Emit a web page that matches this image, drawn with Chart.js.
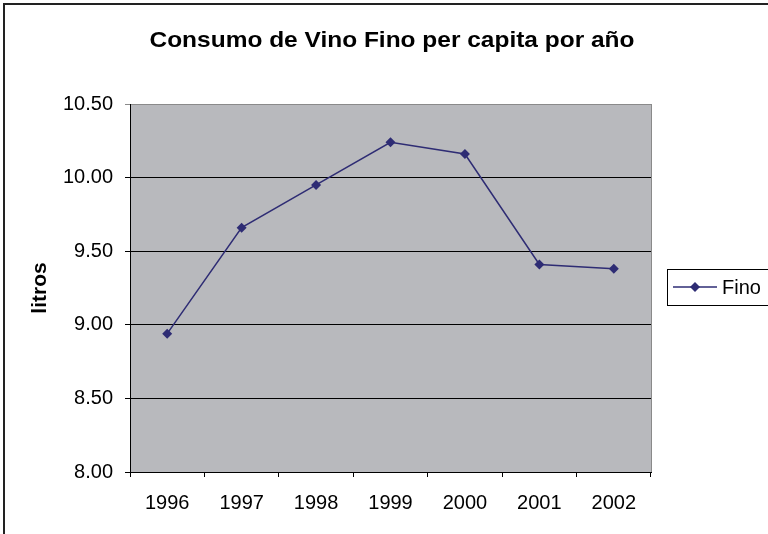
<!DOCTYPE html>
<html>
<head>
<meta charset="utf-8">
<title>Consumo de Vino Fino</title>
<script src="https://cdn.jsdelivr.net/npm/chart.js@4"></script>
<style>
  html, body { margin: 0; padding: 0; background: #fff; }
  #wrap { width: 768px; height: 534px; }
</style>
</head>
<body>
<div id="wrap"><canvas id="chart" width="768" height="534"></canvas></div>
<script>
// Consumo per capita, litros por año
const years = ['1996', '1997', '1998', '1999', '2000', '2001', '2002'];
const fino = [8.94, 9.66, 9.95, 10.24, 10.16, 9.41, 9.38];
const seriesName = 'Fino';
const chartTitle = 'Consumo de Vino Fino per capita por año';
const yTitle = 'litros';

const FONT = '"Liberation Sans", Arial, sans-serif';
const NAVY = '#2E2C74';

// Background, frame, title and legend drawn around the chart area
const excelFrame = {
  id: 'excelFrame',
  beforeDraw(chart) {
    const { ctx, chartArea: a } = chart;
    ctx.save();
    ctx.fillStyle = '#fff';
    ctx.fillRect(0, 0, chart.width, chart.height);
    ctx.fillStyle = '#B8B9BD';
    ctx.fillRect(a.left, a.top, a.right - a.left, a.bottom - a.top);
    ctx.strokeStyle = '#8A8A8A';
    ctx.lineWidth = 1;
    ctx.beginPath();
    ctx.moveTo(a.right + 0.5, a.top);
    ctx.lineTo(a.right + 0.5, a.bottom);
    ctx.stroke();
    ctx.restore();
  },
  afterDraw(chart) {
    const { ctx, chartArea: a } = chart;
    ctx.save();
    // outer frame
    ctx.strokeStyle = '#222';
    ctx.lineWidth = 2;
    ctx.beginPath();
    ctx.moveTo(4, chart.height);
    ctx.lineTo(4, 4);
    ctx.lineTo(chart.width, 4);
    ctx.stroke();

    // title, a little wider than the plain bold face
    ctx.fillStyle = '#000';
    ctx.font = 'bold 22px ' + FONT;
    ctx.textAlign = 'center';
    ctx.textBaseline = 'middle';
    const tw = ctx.measureText(chartTitle).width;
    const sx = 485 / tw;
    ctx.save();
    ctx.translate(392, 41);
    ctx.scale(sx, 1);
    ctx.fillText(chartTitle, 0, 0);
    ctx.restore();

    // legend box
    const bx = 667, by = 269, bw = 110, bh = 36;
    ctx.fillStyle = '#fff';
    ctx.fillRect(bx, by, bw, bh);
    ctx.strokeStyle = '#000';
    ctx.lineWidth = 1;
    ctx.strokeRect(bx + 0.5, by + 0.5, bw, bh);
    const cy = by + bh / 2;
    ctx.strokeStyle = NAVY;
    ctx.lineWidth = 1.5;
    ctx.beginPath();
    ctx.moveTo(673, cy);
    ctx.lineTo(717, cy);
    ctx.stroke();
    ctx.fillStyle = NAVY;
    ctx.beginPath();
    ctx.moveTo(695, cy - 5);
    ctx.lineTo(700, cy);
    ctx.lineTo(695, cy + 5);
    ctx.lineTo(690, cy);
    ctx.closePath();
    ctx.fill();
    ctx.fillStyle = '#000';
    ctx.font = '20px ' + FONT;
    ctx.textAlign = 'left';
    ctx.fillText(chart.data.datasets[0].label, 722, cy + 1);
    ctx.restore();
  }
};

new Chart(document.getElementById('chart'), {
  type: 'line',
  data: {
    labels: years,
    datasets: [{
      label: seriesName,
      data: fino,
      borderColor: NAVY,
      backgroundColor: NAVY,
      borderWidth: 1.5,
      pointStyle: 'rectRot',
      pointRadius: 5,
      pointBorderWidth: 0,
      pointBackgroundColor: NAVY,
      tension: 0
    }]
  },
  options: {
    responsive: false,
    animation: false,
    layout: { padding: { left: 0, top: 104, right: 117, bottom: 0 } },
    plugins: {
      legend: { display: false },
      title: { display: false },
      tooltip: { enabled: false }
    },
    scales: {
      x: {
        offset: true,
        grid: {
          offset: true,
          drawOnChartArea: false,
          color: '#000',
          tickLength: 5
        },
        border: { display: true, color: '#000', width: 1 },
        ticks: {
          color: '#000',
          font: { family: FONT, size: 20 },
          padding: 14,
          maxRotation: 0
        },
        afterFit(scale) { scale.height = 62; }
      },
      y: {
        min: 8,
        max: 10.5,
        grid: {
          color: (c) => (c.tick && c.tick.value === 10.5 ? '#8A8A8A' : '#000'),
          lineWidth: 1,
          tickLength: 5
        },
        border: { display: true, color: '#000', width: 1 },
        ticks: {
          stepSize: 0.5,
          color: '#000',
          font: { family: FONT, size: 20 },
          padding: 12,
          callback: (v) => Number(v).toFixed(2)
        },
        title: {
          display: true,
          text: yTitle,
          color: '#000',
          font: { family: FONT, size: 21, weight: 'bold' },
          padding: { top: 28, bottom: 0 }
        },
        afterFit(scale) { scale.width = 130; }
      }
    }
  },
  plugins: [excelFrame]
});
</script>
</body>
</html>
